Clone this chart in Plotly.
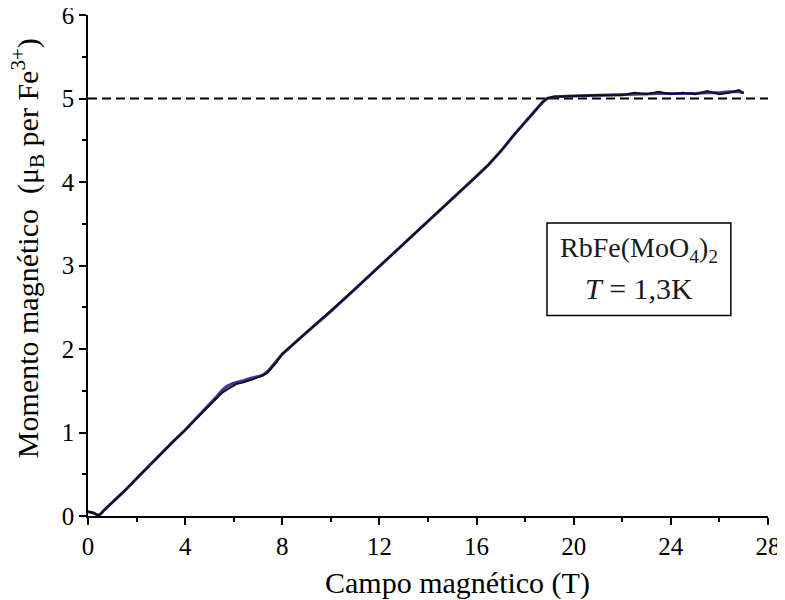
import plotly.graph_objects as go

# Field (T)
field = [0.0, 0.2, 0.4, 0.5, 0.7, 1.0, 1.5, 2.0, 2.5, 3.0, 3.5, 4.0, 4.5, 5.0, 5.3, 5.5,
         5.7, 5.9, 6.1, 6.4, 6.7, 7.0, 7.2, 7.4, 7.7, 8.0, 9.0, 10.0, 11.0, 12.0, 13.0,
         14.0, 15.0, 16.0, 16.5, 17.0, 17.5, 18.0, 18.4, 18.7, 18.9, 19.2, 20.0, 21.0,
         22.0, 22.5, 23.0, 23.5, 24.0, 24.5, 25.0, 25.5, 26.0, 26.4, 26.8, 27.0]
# Up sweep (purple)
moment_up = [0.05, 0.04, 0.01, 0.02, 0.08, 0.16, 0.30, 0.45, 0.60, 0.74, 0.89, 1.03, 1.18,
             1.33, 1.43, 1.50, 1.55, 1.58, 1.60, 1.62, 1.65, 1.67, 1.69, 1.73, 1.83, 1.94,
             2.20, 2.45, 2.72, 2.99, 3.26, 3.52, 3.80, 4.07, 4.21, 4.37, 4.55, 4.72, 4.85,
             4.95, 5.00, 5.02, 5.03, 5.04, 5.05, 5.05, 5.06, 5.06, 5.06, 5.06, 5.06, 5.07,
             5.07, 5.08, 5.08, 5.07]
# Down sweep (black)
moment_down = [0.05, 0.04, 0.01, 0.02, 0.08, 0.16, 0.30, 0.45, 0.60, 0.74, 0.89, 1.03, 1.18,
               1.33, 1.42, 1.47, 1.51, 1.55, 1.58, 1.60, 1.63, 1.66, 1.68, 1.72, 1.82, 1.94,
               2.20, 2.45, 2.72, 2.99, 3.26, 3.52, 3.80, 4.07, 4.21, 4.37, 4.55, 4.72, 4.85,
               4.95, 5.00, 5.02, 5.03, 5.04, 5.04, 5.07, 5.05, 5.08, 5.05, 5.07, 5.05, 5.09,
               5.05, 5.07, 5.10, 5.06]

saturation = 5.0
x_ticks = [0, 4, 8, 12, 16, 20, 24, 28]
y_ticks = [0, 1, 2, 3, 4, 5, 6]

FONT = "Liberation Serif, Times New Roman, serif"

fig = go.Figure()
fig.add_trace(go.Scatter(x=[0, 28], y=[saturation, saturation], mode="lines",
                         line=dict(color="black", width=2, dash="9px,5px"),
                         hoverinfo="skip", showlegend=False))
fig.add_trace(go.Scatter(x=field, y=moment_up, mode="lines",
                         line=dict(color="#4b2fa0", width=3),
                         showlegend=False))
fig.add_trace(go.Scatter(x=field, y=moment_down, mode="lines",
                         line=dict(color="#111111", width=2),
                         showlegend=False))

fig.add_shape(type="rect", x0=18.9, x1=26.47, y0=2.40, y1=3.51, xref="x", yref="y",
              line=dict(color="black", width=1.5), fillcolor="white", layer="above")
fig.add_annotation(x=22.68, y=3.19, xref="x", yref="y", showarrow=False,
                   text="RbFe(MoO<sub>4</sub>)<sub>2</sub>",
                   font=dict(family=FONT, size=28, color="#1a1a1a"))
fig.add_annotation(x=22.68, y=2.73, xref="x", yref="y", showarrow=False,
                   text="<i>T</i> = 1,3K",
                   font=dict(family=FONT, size=30, color="#1a1a1a"))

# Axis titles (placed as annotations for exact positioning)
fig.add_annotation(xref="paper", yref="paper", x=0.544, y=-0.134, showarrow=False,
                   xanchor="center", yanchor="middle",
                   text="Campo magnético (T)", font=dict(family=FONT, size=30, color="black"))
fig.add_annotation(xref="paper", yref="paper", x=-0.088, y=0.535, showarrow=False,
                   xanchor="center", yanchor="middle", textangle=-90,
                   text="Momento magnético  (μ<sub>B</sub> per Fe<sup>3+</sup>)",
                   font=dict(family=FONT, size=30, color="black"))

fig.update_layout(
    width=777, height=592,
    margin=dict(l=80, r=17, t=7, b=84),
    paper_bgcolor="white", plot_bgcolor="white",
    font=dict(family=FONT, color="black"),
    xaxis=dict(range=[0, 28], tickvals=x_ticks, ticktext=[str(v) for v in x_ticks],
               automargin=False, ticklabeloverflow="allow",
               showgrid=False, zeroline=False, showline=True, linecolor="black", linewidth=1.5,
               ticks="outside", ticklen=7, tickwidth=1.5, tickcolor="black",
               minor=dict(ticks="outside", ticklen=4, dtick=2, tick0=0, tickcolor="black", tickwidth=1.5),
               tickfont=dict(family=FONT, size=25)),
    yaxis=dict(range=[0, 6], tickvals=y_ticks, ticktext=[str(v) for v in y_ticks],
               automargin=False, ticklabeloverflow="allow",
               showgrid=False, zeroline=False, showline=True, linecolor="black", linewidth=1.5,
               ticks="outside", ticklen=7, tickwidth=1.5, tickcolor="black",
               minor=dict(ticks="outside", ticklen=4, dtick=0.5, tick0=0, tickcolor="black", tickwidth=1.5),
               tickfont=dict(family=FONT, size=25)),
)

fig.write_html("out.html")
